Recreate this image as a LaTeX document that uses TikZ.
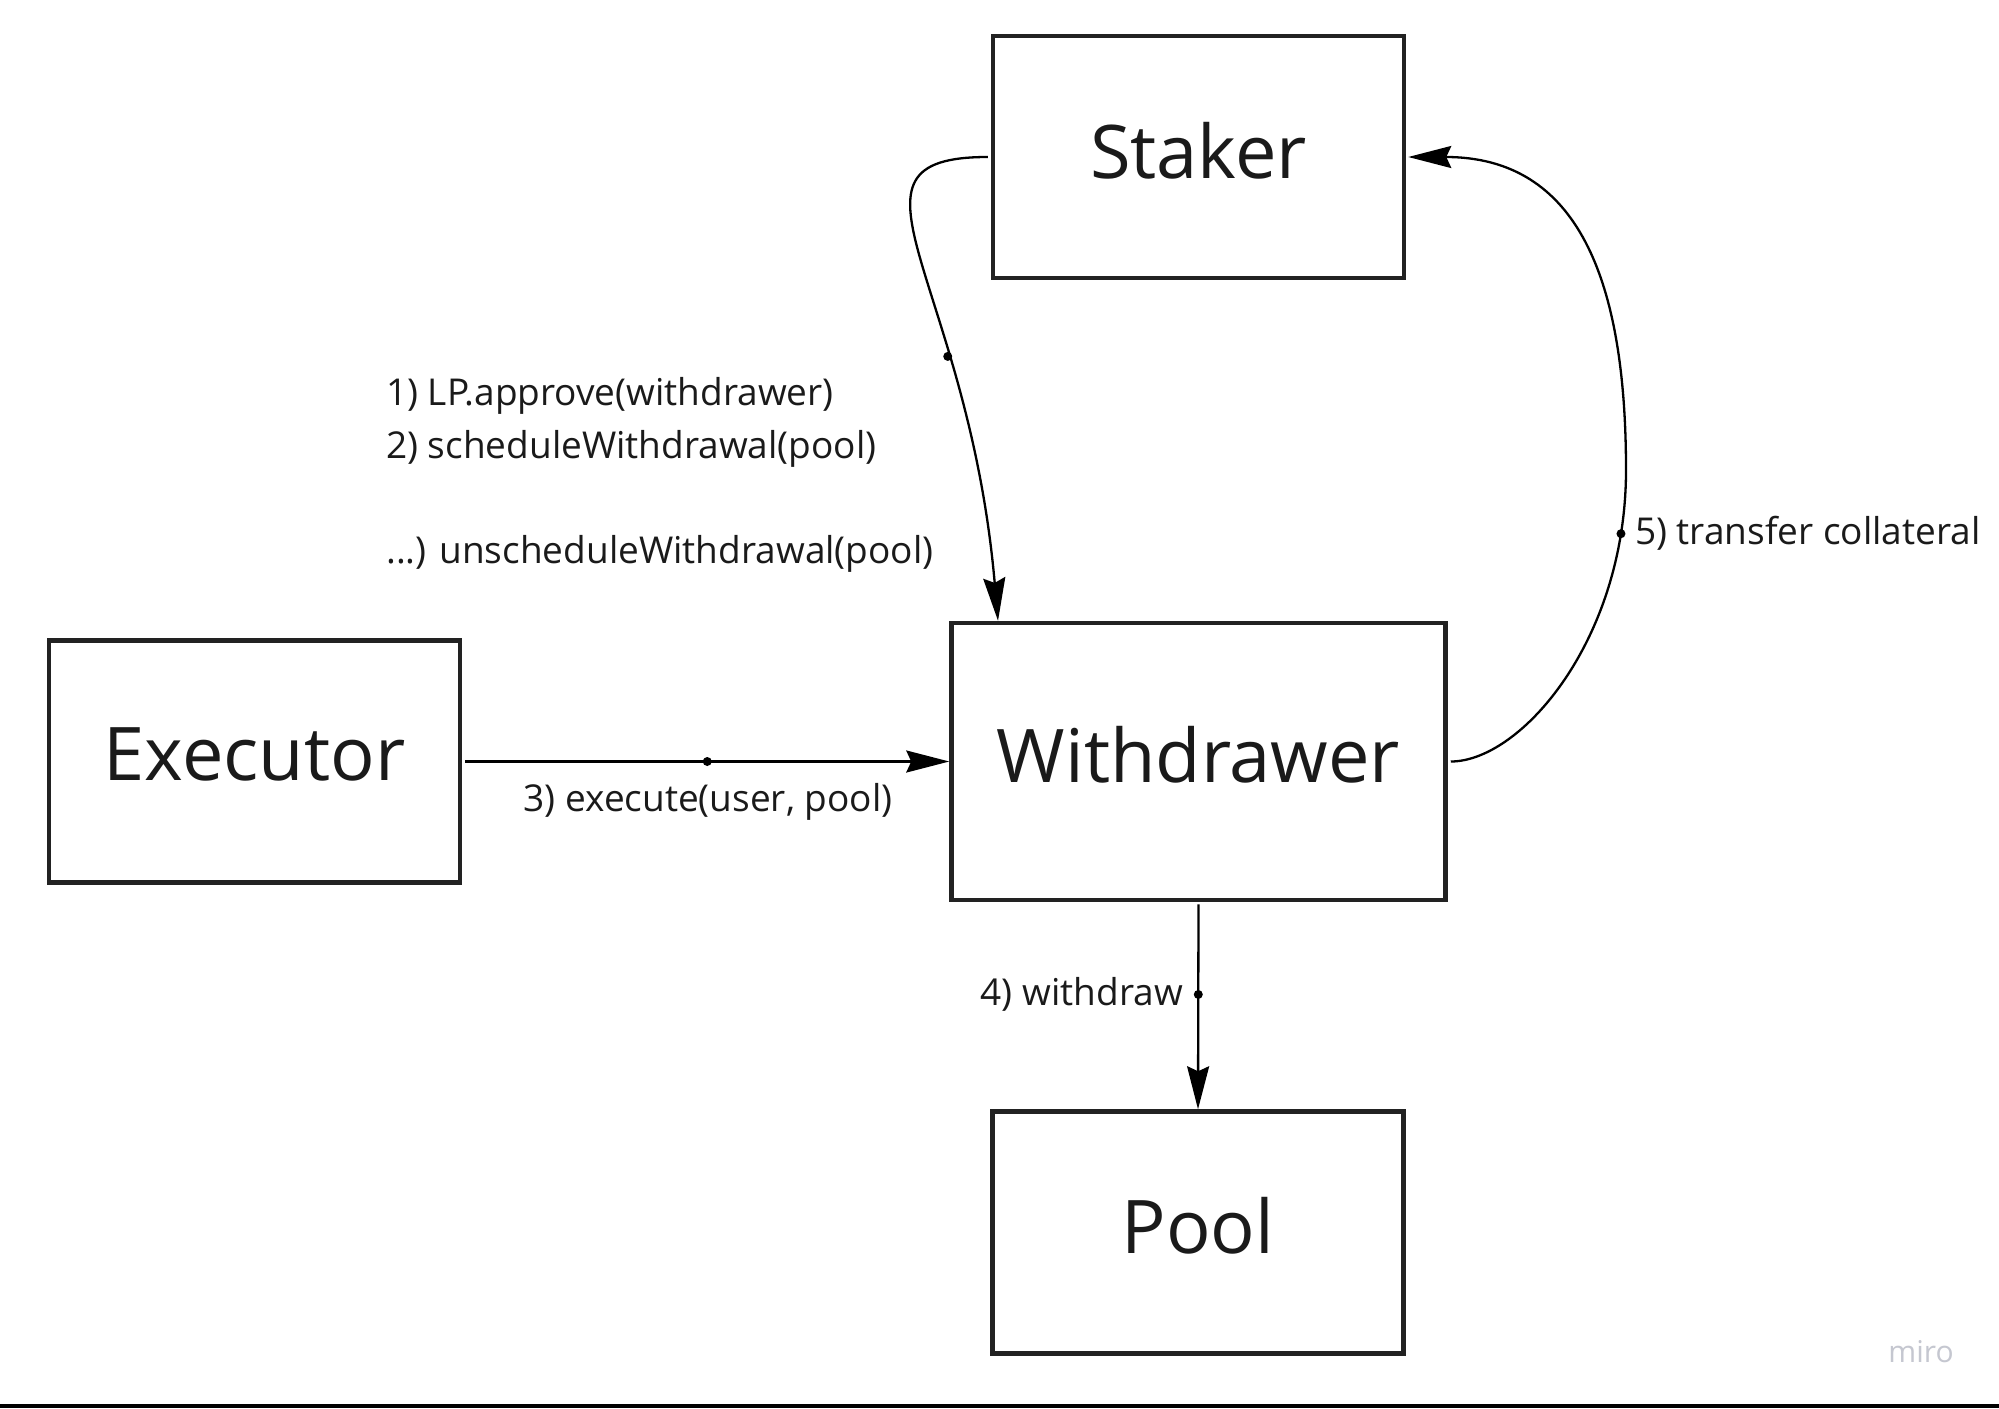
\documentclass[tikz,border=0pt]{standalone}
\usepackage{fontspec}
\setmainfont{Open Sans}
\usetikzlibrary{arrows.meta}
\definecolor{boxline}{HTML}{222222}
\definecolor{ink}{HTML}{1A1A1A}
\definecolor{mirogray}{HTML}{C5C7D0}
\begin{document}
\begin{tikzpicture}[x=1pt,y=-1pt,
  box/.style={draw=boxline, line width=4.5pt, minimum width=411pt, minimum height=242pt,
              inner sep=0pt, font=\fontsize{74}{80}\selectfont, text=ink, text depth=14pt},
  conn/.style={draw=black, line width=2.3pt, -{Stealth[length=43pt,width=22pt,inset=5pt]}},
  dotnode/.style={circle, fill=black, inner sep=0pt, minimum size=9pt},
  lbl/.style={font=\fontsize{37}{42}\selectfont, text=ink, inner sep=0pt}]
\fill[white] (0,0) rectangle (1999,1408);
\useasboundingbox (0,0) rectangle (1999,1408);

\node[box] (staker) at (1198.5,157) {Staker};
\node[box, minimum width=494pt, minimum height=277pt] (withdrawer) at (1198.5,761.5) {Withdrawer};
\node[box] (executor) at (254.5,761.5) {Executor};
\node[box] (pool) at (1198,1232.5) {Pool};

\coordinate (c5) at (1626,470);

% 1) and 2) from Staker to Withdrawer
\draw[conn] ([xshift=-3pt]staker.west) .. controls +(-165,0) and +(-30,-343) ..
  node[pos=0.68, dotnode] (d1) {} ([xshift=-200.5pt]withdrawer.north);

% 3) execute
\draw[conn] ([xshift=3pt]executor.east) -- node[dotnode] (d3) {} (withdrawer.west);

% 4) withdraw
\draw[conn] ([yshift=-2pt]withdrawer.south) -- node[pos=0.44, dotnode] (d4) {} (pool.north);

% 5) transfer collateral
\draw[conn] ([xshift=3pt]withdrawer.east) .. controls +(70,0) and +(0,170) ..
  node[pos=0.87, dotnode] (d5) {} (c5)
  .. controls +(0,-190) and +(170,0) .. ([xshift=2pt]staker.east);

\node[lbl, anchor=base west] (l1) at (386,405) {1) LP.approve(withdrawer)};
\node[lbl, anchor=base west] (l2) at (386,458) {2) scheduleWithdrawal(pool)};
\node[lbl, anchor=base west] (l3) at (386,563) {...) unscheduleWithdrawal(pool)};
\node[lbl, anchor=base] (l4) at (708,811) {3) execute(user, pool)};
\node[lbl, anchor=base east] (l5) at (1183,1005) {4) withdraw};
\node[lbl, anchor=base west] (l6) at (1635,544) {5) transfer collateral};

\node[font=\fontsize{30}{34}\selectfont, text=mirogray, anchor=base, inner sep=0pt] (miro) at (1921,1362) {miro};

\fill[black] (0,1404) rectangle (1999,1408);
\end{tikzpicture}
\end{document}
